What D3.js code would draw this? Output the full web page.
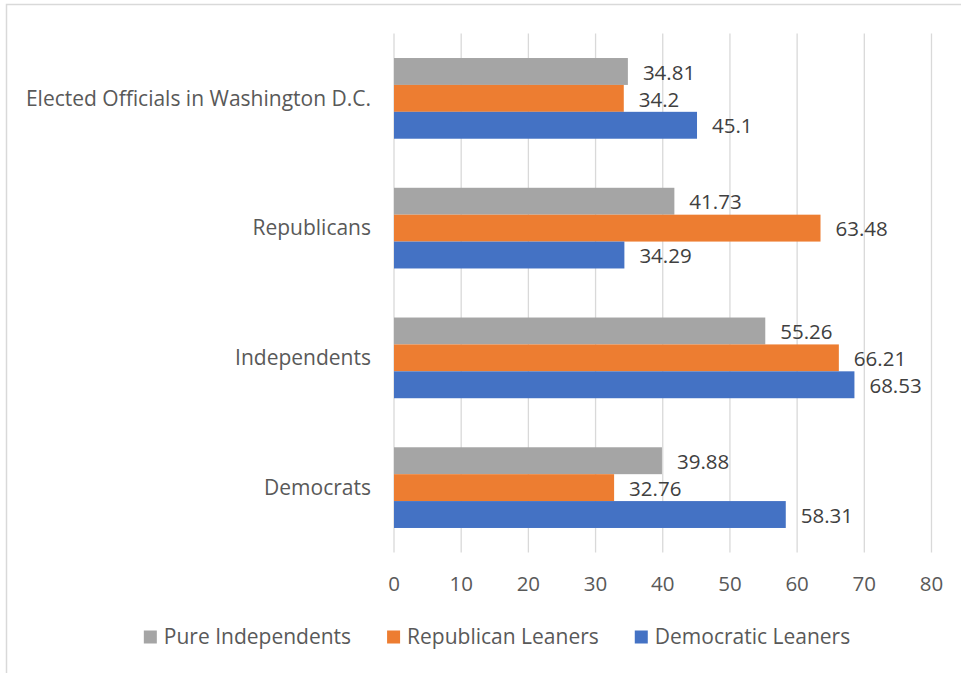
<!DOCTYPE html>
<html>
<head>
<meta charset="utf-8">
<script src="https://cdn.jsdelivr.net/npm/d3@7"></script>
<style>
  body { margin: 0; background: #fff; }
  svg { font-family: "Open Sans", sans-serif; }
</style>
</head>
<body>
<svg></svg>
<script>
let categories = ["Elected Officials in Washington D.C.", "Republicans", "Independents", "Democrats"];
let seriesNames = ["Pure Independents", "Republican Leaners", "Democratic Leaners"];
let pureIndependents = [34.81, 41.73, 55.26, 39.88];
let republicanLeaners = [34.2, 63.48, 66.21, 32.76];
let democraticLeaners = [45.1, 34.29, 68.53, 58.31];
let xTicks = [0, 10, 20, 30, 40, 50, 60, 70, 80];
let colors = ["#A5A5A5", "#ED7D31", "#4472C4"];

let series = [pureIndependents, republicanLeaners, democraticLeaners];

let svgWidth = 961, svgHeight = 673;
let svg = d3.select('svg')
            .attr('width', svgWidth)
            .attr('height', svgHeight);

// chart area border
svg.append('rect')
   .attr('x', 6.5).attr('y', 4.5)
   .attr('width', 1000).attr('height', 1000)
   .attr('fill', 'none')
   .attr('stroke', '#D9D9D9')
   .attr('stroke-width', 1.5);

let x = d3.scaleLinear().domain([0, 80]).range([394, 931.5]);
let y0 = d3.scaleBand().domain(categories).range([33.5, 552.5])
           .paddingInner(0.378).paddingOuter(0.189);
let y1 = d3.scaleBand().domain(seriesNames).range([0, y0.bandwidth()]);

// gridlines
svg.append('g')
   .selectAll('line')
   .data(xTicks)
   .enter()
   .append('line')
   .attr('x1', d => x(d)).attr('x2', d => x(d))
   .attr('y1', 33.5).attr('y2', 552.5)
   .attr('stroke', '#D9D9D9')
   .attr('stroke-width', 1.3);

// x tick labels
svg.append('g')
   .selectAll('text')
   .data(xTicks)
   .enter()
   .append('text')
   .attr('x', d => x(d))
   .attr('y', 584)
   .attr('dy', '0.35em')
   .attr('text-anchor', 'middle')
   .attr('font-size', 20.5)
   .attr('fill', '#595959')
   .text(d => d);

// category labels
svg.append('g')
   .selectAll('text')
   .data(categories)
   .enter()
   .append('text')
   .attr('x', 371)
   .attr('y', d => y0(d) + y0.bandwidth() / 2)
   .attr('dy', '0.35em')
   .attr('text-anchor', 'end')
   .attr('font-size', 21)
   .attr('fill', '#595959')
   .text(d => d);

// bars + labels
let groups = svg.append('g')
   .selectAll('g')
   .data(categories)
   .enter()
   .append('g')
   .attr('transform', d => 'translate(0,' + y0(d) + ')');

groups.selectAll('rect')
   .data((d, i) => seriesNames.map((s, j) => ({ s: s, v: series[j][i], c: colors[j] })))
   .enter()
   .append('rect')
   .attr('x', x(0))
   .attr('y', d => y1(d.s))
   .attr('width', d => x(d.v) - x(0))
   .attr('height', y1.bandwidth())
   .attr('fill', d => d.c);

groups.selectAll('text')
   .data((d, i) => seriesNames.map((s, j) => ({ s: s, v: series[j][i] })))
   .enter()
   .append('text')
   .attr('x', d => x(d.v) + 15)
   .attr('y', d => y1(d.s) + y1.bandwidth() / 2 + 1)
   .attr('dy', '0.35em')
   .attr('font-size', 20.5)
   .attr('fill', '#404040')
   .text(d => d.v);

// legend
let legend = svg.append('g');
let items = legend.selectAll('g')
   .data(seriesNames)
   .enter()
   .append('g');

items.append('rect')
   .attr('width', 13).attr('height', 13)
   .attr('y', 630.5)
   .attr('fill', (d, i) => colors[i]);

items.append('text')
   .attr('x', 20)
   .attr('y', 637)
   .attr('dy', '0.35em')
   .attr('font-size', 21)
   .attr('fill', '#595959')
   .text(d => d);

let gap = 36;
let pos = 0, offsets = [];
items.each(function() {
    offsets.push(pos);
    pos += this.getBBox().width + gap;
});
let total = pos - gap;
let start = 497 - total / 2;
items.attr('transform', (d, i) => 'translate(' + (start + offsets[i]) + ',0)');
</script>
</body>
</html>
